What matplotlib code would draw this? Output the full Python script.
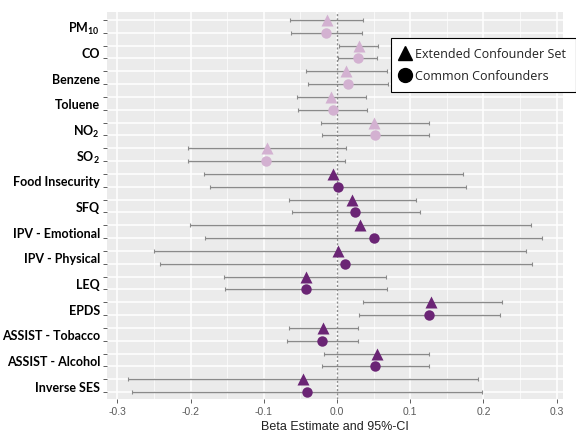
import matplotlib
matplotlib.use("Agg")
import matplotlib.pyplot as plt
from matplotlib.lines import Line2D
import numpy as np

categories = ["PM$_{10}$", "CO", "Benzene", "Toluene", "NO$_2$", "SO$_2$",
              "Food Insecurity", "SFQ", "IPV - Emotional", "IPV - Physical",
              "LEQ", "EPDS", "ASSIST - Tobacco", "ASSIST - Alcohol", "Inverse SES"]
group = ["env"] * 6 + ["psy"] * 9

# Extended Confounder Set (triangles)
ext_est = [-0.014, 0.030, 0.012, -0.008, 0.051, -0.095, -0.005, 0.021, 0.031, 0.002,
           -0.043, 0.129, -0.019, 0.054, -0.046]
ext_lo = [-0.064, 0.003, -0.043, -0.055, -0.022, -0.204, -0.182, -0.066, -0.201, -0.250,
          -0.155, 0.035, -0.066, -0.018, -0.286]
ext_hi = [0.035, 0.056, 0.068, 0.039, 0.126, 0.012, 0.172, 0.108, 0.265, 0.258,
          0.067, 0.226, 0.028, 0.126, 0.193]

# Common Confounders (circles)
com_est = [-0.015, 0.029, 0.015, -0.006, 0.052, -0.097, 0.001, 0.025, 0.050, 0.011,
           -0.043, 0.126, -0.020, 0.052, -0.041]
com_lo = [-0.063, 0.002, -0.040, -0.053, -0.021, -0.203, -0.173, -0.061, -0.180, -0.242,
          -0.153, 0.030, -0.068, -0.020, -0.280]
com_hi = [0.034, 0.055, 0.069, 0.041, 0.126, 0.011, 0.176, 0.113, 0.280, 0.266,
          0.068, 0.223, 0.028, 0.125, 0.198]

xticks = [-0.3, -0.2, -0.1, 0.0, 0.1, 0.2, 0.3]
xticklabels = ["-0.3", "-0.2", "-0.1", "0.0", "0.1", "0.2", "0.3"]

colors = {"env": "#D3B1D1", "psy": "#6B2575"}

plt.rcParams['mathtext.fontset'] = 'custom'
plt.rcParams['mathtext.rm'] = 'Lato:bold'
plt.rcParams['mathtext.it'] = 'Lato:bold'
plt.rcParams['mathtext.bf'] = 'Lato:bold'

fig = plt.figure(figsize=(5.76, 4.35), dpi=100)
ax = fig.add_axes([107/576, 1 - 400/435, (563 - 107)/576, (400 - 13)/435])
ax.set_facecolor("#EBEBEB")
for s in ax.spines.values():
    s.set_visible(False)

n = len(categories)
centers = np.array([n - 1 - i for i in range(n)], dtype=float)
off = 0.245
y_tri = centers + off
y_cir = centers - off

ax.axvline(0, color="#8C8C8C", lw=1.0, ls=(0, (1.5, 1.5)), zorder=2)

for i in range(n):
    c = colors[group[i]]
    ax.errorbar(ext_est[i], y_tri[i],
                xerr=[[ext_est[i] - ext_lo[i]], [ext_hi[i] - ext_est[i]]],
                fmt='none', ecolor="#8A8A8A", elinewidth=1.0, capsize=1.5, capthick=0.8, zorder=3)
    ax.errorbar(com_est[i], y_cir[i],
                xerr=[[com_est[i] - com_lo[i]], [com_hi[i] - com_est[i]]],
                fmt='none', ecolor="#8A8A8A", elinewidth=1.0, capsize=1.5, capthick=0.8, zorder=3)
    ax.plot(ext_est[i], y_tri[i], marker='^', color=c, ms=8.5, mec='none', zorder=4)
    ax.plot(com_est[i], y_cir[i], marker='o', color=c, ms=7.5, mec='none', zorder=4)

ax.set_xlim(-0.3142, 0.3087)
ax.set_ylim(-0.245 - 0.27, (n - 1) + 0.245 + 0.31)

ax.set_xticks(xticks)
ax.set_xticklabels(xticklabels, fontsize=7.5, color="#5A5A5A", family="Liberation Sans")
ax.set_xticks([-0.25, -0.15, -0.05, 0.05, 0.15, 0.25], minor=True)
ax.tick_params(axis='x', which='major', length=3, color="#444444", width=0.6, pad=2)
ax.tick_params(axis='x', which='minor', length=0)

ypos = np.sort(np.concatenate([y_tri, y_cir]))
ax.set_yticks(ypos)
ax.set_yticklabels([""] * len(ypos))
ax.tick_params(axis='y', which='major', length=3, color="#444444", width=0.6)
ax.set_yticks(centers, minor=True)
ax.set_yticklabels(categories, minor=True, fontsize=9, fontweight='bold', family="Lato", color="black")
ax.tick_params(axis='y', which='minor', length=0, pad=5)

ax.grid(True, which='major', axis='both', color='white', lw=1.1, zorder=0)
ax.grid(True, which='minor', axis='x', color='white', lw=0.5, zorder=0)
ax.set_axisbelow(True)

ax.set_xlabel("Beta Estimate and 95%-CI", fontsize=9, family="Liberation Sans", color="#222222", labelpad=3)

handles = [Line2D([], [], marker='^', color='black', ls='none', ms=10),
           Line2D([], [], marker='o', color='black', ls='none', ms=10)]
leg = ax.legend(handles, ["Extended Confounder Set", "Common Confounders"],
                loc='upper left', bbox_to_anchor=((391 - 107)/456, (400 - 39)/387),
                frameon=True, fancybox=False, edgecolor='black', framealpha=1,
                prop={'family': 'Open Sans', 'size': 9.0}, handlelength=0.8, handletextpad=0.4,
                borderpad=0.75, labelspacing=0.7, borderaxespad=0)
leg.get_frame().set_linewidth(0.8)
for t in leg.get_texts():
    t.set_color("#222222")

fig.savefig("out.png", dpi=100)
